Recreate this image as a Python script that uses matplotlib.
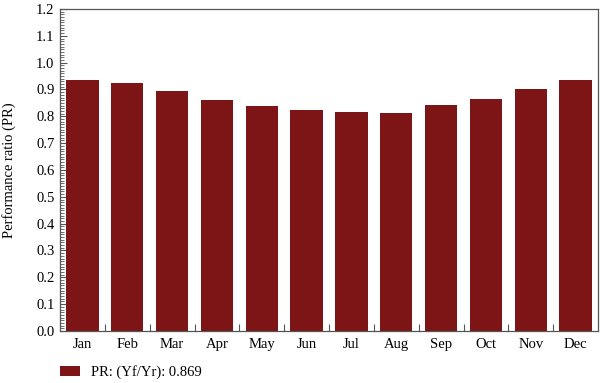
import matplotlib
matplotlib.use("Agg")
import matplotlib.pyplot as plt
from matplotlib.ticker import MultipleLocator, FixedLocator
import numpy as np

months = ["Jan", "Feb", "Mar", "Apr", "May", "Jun", "Jul", "Aug", "Sep", "Oct", "Nov", "Dec"]
pr_values = [0.935, 0.925, 0.895, 0.859, 0.840, 0.825, 0.816, 0.813, 0.843, 0.865, 0.903, 0.935]
legend_label = "PR: (Yf/Yr): 0.869"
y_label = "Performance ratio (PR)"

plt.rcParams['font.family'] = ['Liberation Serif', 'DejaVu Serif']

bar_color = "#7d1416"
spine_color = "#555555"

fig = plt.figure(figsize=(6.0, 3.83), dpi=100)
ax = fig.add_axes([0.1, 0.1358, 0.8967, 0.8407])

x = np.arange(len(months))
ax.bar(x, pr_values, width=0.72, color=bar_color, label=legend_label, zorder=2)

ax.set_xlim(-0.5, len(months) - 0.5)
ax.set_ylim(0, 1.2)

ax.yaxis.set_major_locator(MultipleLocator(0.1))
ax.yaxis.set_minor_locator(MultipleLocator(0.01))
ax.set_yticklabels([f"{v:.1f}" for v in ax.get_yticks()])
ax.tick_params(axis='y', which='major', direction='in', length=5, width=0.8,
               color=spine_color, labelsize=10.5, pad=4, right=False)
ax.tick_params(axis='y', which='minor', direction='in', length=3, width=0.6,
               color=spine_color, right=False)

ax.set_xticks(x)
ax.set_xticklabels(months)
ax.tick_params(axis='x', which='major', length=0, labelsize=10.5, pad=5)
ax.xaxis.set_minor_locator(FixedLocator(np.arange(0.5, len(months) - 1, 1.0)))
ax.tick_params(axis='x', which='minor', direction='in', length=5, width=0.8,
               color=spine_color, top=False)

for s in ax.spines.values():
    s.set_color(spine_color)
    s.set_linewidth(0.9)

ax.set_ylabel(y_label, fontsize=10.5, labelpad=14)

fig.legend(loc='center left', bbox_to_anchor=(60 / 600, 11 / 383), frameon=False,
           fontsize=10.5, handlelength=1.37, handleheight=0.68, handletextpad=0.75,
           borderpad=0, borderaxespad=0)

fig.savefig("out.png", dpi=100)
